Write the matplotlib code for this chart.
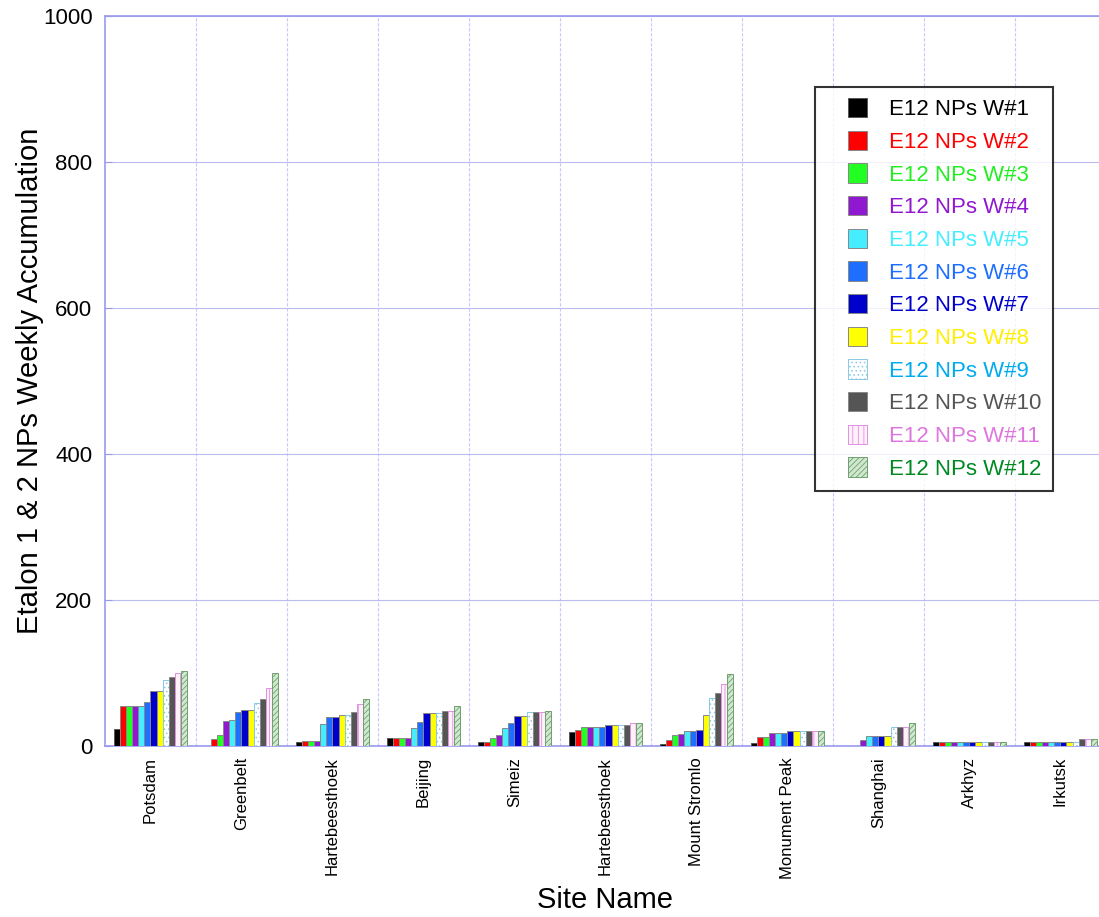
import numpy as np
import matplotlib
matplotlib.use("Agg")
import matplotlib.pyplot as plt
from matplotlib.patches import Rectangle
from matplotlib.legend_handler import HandlerPatch

plt.rcParams['font.family'] = ['Liberation Sans', 'DejaVu Sans']
plt.rcParams['hatch.linewidth'] = 0.6

sites = ["Potsdam", "Greenbelt", "Hartebeesthoek", "Beijing", "Simeiz",
         "Hartebeesthoek", "Mount Stromlo", "Monument Peak", "Shanghai",
         "Arkhyz", "Irkutsk"]

# weekly accumulation per site, one list per week
w1 = [23, 0, 5, 11, 5, 19, 3, 4, 0, 5, 5]
w2 = [55, 9, 7, 11, 5, 22, 8, 12, 0, 5, 5]
w3 = [55, 15, 7, 11, 11, 26, 15, 12, 0, 5, 5]
w4 = [55, 34, 7, 11, 15, 26, 17, 18, 8, 5, 5]
w5 = [55, 36, 30, 24, 24, 26, 20, 18, 14, 5, 5]
w6 = [60, 47, 40, 33, 32, 26, 20, 18, 14, 5, 5]
w7 = [76, 49, 40, 45, 41, 29, 22, 20, 14, 5, 5]
w8 = [76, 49, 42, 45, 41, 29, 43, 20, 14, 5, 5]
w9 = [90, 59, 42, 45, 46, 29, 66, 20, 26, 5, 5]
w10 = [95, 64, 46, 48, 46, 29, 73, 20, 26, 5, 9]
w11 = [100, 80, 58, 48, 46, 32, 85, 20, 26, 5, 9]
w12 = [103, 100, 64, 55, 48, 32, 98, 20, 32, 5, 9]
weeks = [w1, w2, w3, w4, w5, w6, w7, w8, w9, w10, w11, w12]
labels = ["E12 NPs W#%d" % (i + 1) for i in range(12)]

faces = ['#000000', '#FF0000', '#22FF22', '#9018D0', '#44EEFF', '#1E6EFF',
         '#0000CC', '#FFFF00', '#FFFFFF', '#555555', '#FFF0FA', '#D0E8D0']
edges = ['#555555', '#888888', '#888888', '#888888', '#888888', '#888888',
         '#888888', '#888888', '#88C8E8', '#888888', '#E090E0', '#6FA06F']
hatches = [None] * 8 + ['....', None, '|||', '//////']
text_cols = ['#000000', '#FF0000', '#22EE22', '#9018D0', '#44EEFF', '#1E6EFF',
             '#0000CC', '#FFEE00', '#00AAEE', '#555555', '#DD77DD', '#008822']

fig = plt.figure(figsize=(10.99, 9.17), dpi=100)
ax = fig.add_axes([0.0955, 0.1865, 0.9108, 0.796])

x = np.arange(len(sites))
n = len(weeks)
bw = 0.8 / n
handles = []
for i, vals in enumerate(weeks):
    bars = ax.bar(x - 0.4 + bw * (i + 0.5), vals, bw, color=faces[i],
                  edgecolor=edges[i], linewidth=0.7, hatch=hatches[i],
                  zorder=3)
    handles.append(bars.patches[0])

ax.set_xlim(-0.5, len(sites) - 0.5)
ax.set_ylim(0, 1000)
ax.set_yticks([0, 200, 400, 600, 800, 1000])
ax.set_xticks(x)
ax.set_xticklabels(sites, rotation=90, fontsize=12, va='top')
ax.set_xticks(x[:-1] + 0.5, minor=True)
ax.tick_params(axis='x', which='both', length=0, pad=8)
ax.tick_params(axis='y', direction='in', length=5, color='#9999EE',
               labelsize=16, pad=9)
ax.yaxis.grid(True, color='#BBBBEE', linewidth=0.8, zorder=0)
ax.xaxis.grid(True, which='minor', color='#C8C8FF', linewidth=0.8,
              linestyle=(0, (3, 1.5)), zorder=0)
ax.set_axisbelow(True)
for s in ax.spines.values():
    s.set_color('#9999EE')
    s.set_linewidth(1.2)

ax.set_ylabel("Etalon 1 & 2 NPs Weekly Accumulation", fontsize=21, labelpad=-1)
ax.set_xlabel("Site Name", fontsize=21, labelpad=5)


def square_handle(legend, orig_handle, xdescent, ydescent, width, height,
                  fontsize):
    return Rectangle((width - height - xdescent, -ydescent), height, height)


leg = fig.legend(handles, labels, loc='upper left',
                 bbox_to_anchor=(815 / 1099, 1 - 87 / 917),
                 fontsize=16, frameon=True, fancybox=False, borderaxespad=0,
                 handlelength=1.85, handleheight=0.95, handletextpad=1.0,
                 labelspacing=0.47, borderpad=0.5,
                 handler_map={Rectangle: HandlerPatch(patch_func=square_handle)})
leg.get_frame().set_edgecolor('black')
leg.get_frame().set_linewidth(1.5)
for t, c in zip(leg.get_texts(), text_cols):
    t.set_color(c)

fig.savefig("out.png", dpi=100)
